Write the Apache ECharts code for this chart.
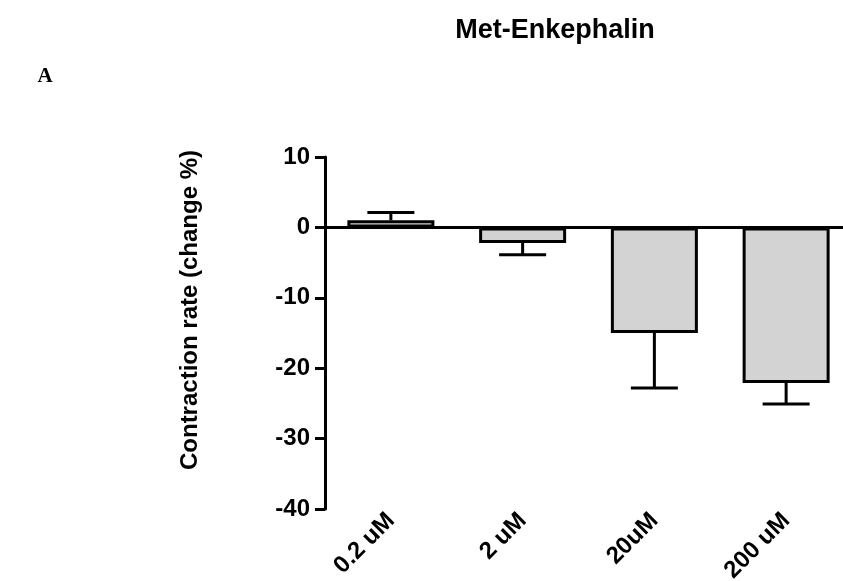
<!DOCTYPE html>
<html>
<head>
<meta charset="utf-8">
<script src="https://cdn.jsdelivr.net/npm/echarts@6/dist/echarts.min.js"></script>
<style>html,body{margin:0;padding:0;background:#fff}#c{width:843px;height:581px}</style>
</head>
<body>
<div id="c"></div>
<script>
const categories = ['0.2 uM', '2 uM', '20uM', '200 uM'];
const means = [1.0, -2.2, -15.0, -22.1];
const sems = [1.1, 1.7, 7.8, 3.0];
const yTicks = [-40, -30, -20, -10, 0, 10];

const errData = means.map((m, i) => [i, m, m >= 0 ? m + sems[i] : m - sems[i]]);
const FONT = '"Liberation Sans", Arial, Helvetica, sans-serif';

const chart = echarts.init(document.getElementById('c'));
chart.setOption({
  animation: false,
  backgroundColor: '#fff',
  grid: { left: 325, right: -9, top: 157, bottom: 72, containLabel: false, outerBoundsMode: 'none' },
  graphic: [
    { type: 'text', x: 555, y: 31, style: { text: 'Met-Enkephalin', font: 'bold 27px ' + FONT, fill: '#000', textAlign: 'center', textVerticalAlign: 'middle' } },
    { type: 'text', x: 45, y: 77, style: { text: 'A', font: 'bold 21px "Liberation Serif", "Times New Roman", serif', fill: '#000', textAlign: 'center', textVerticalAlign: 'middle' } },
    { type: 'text', x: 190, y: 310, rotation: Math.PI / 2, style: { text: 'Contraction rate (change %)', font: 'bold 24px ' + FONT, fill: '#000', textAlign: 'center', textVerticalAlign: 'middle' } }
  ],
  xAxis: {
    type: 'category',
    data: categories,
    position: 'bottom',
    axisLine: { show: false, onZero: false },
    axisTick: { show: false },
    axisLabel: { rotate: 45, margin: 8, color: '#000', fontWeight: 'bold', fontSize: 24, fontFamily: FONT, interval: 0 },
    splitLine: { show: false }
  },
  yAxis: {
    type: 'value',
    min: -40, max: 10, interval: 10,
    axisLine: { show: true, lineStyle: { color: '#000', width: 3 } },
    axisTick: { show: true, length: 10, lineStyle: { color: '#000', width: 3 } },
    axisLabel: { color: '#000', fontWeight: 'bold', fontSize: 24, fontFamily: FONT, margin: 15,
      formatter: v => yTicks.includes(v) ? String(v) : '' },
    splitLine: { show: false }
  },
  series: [
    {
      type: 'bar',
      data: means,
      barWidth: 87,
      itemStyle: { color: '#d3d3d3', borderColor: '#000', borderWidth: 3 },
      z: 3,
      markLine: {
        silent: true, symbol: 'none', label: { show: false },
        lineStyle: { color: '#000', width: 3, type: 'solid' },
        data: [{ yAxis: 0 }],
        z: 2
      }
    },
    {
      type: 'custom',
      data: errData,
      z: 4,
      renderItem: function (params, api) {
        const p = api.coord([api.value(0), api.value(1)]);
        const e = api.coord([api.value(0), api.value(2)]);
        const half = 23.5;
        return {
          type: 'group',
          children: [
            { type: 'line', shape: { x1: p[0], y1: p[1], x2: e[0], y2: e[1] }, style: { stroke: '#000', lineWidth: 3 } },
            { type: 'line', shape: { x1: e[0] - half, y1: e[1], x2: e[0] + half, y2: e[1] }, style: { stroke: '#000', lineWidth: 3 } }
          ]
        };
      }
    }
  ]
});
</script>
</body>
</html>
